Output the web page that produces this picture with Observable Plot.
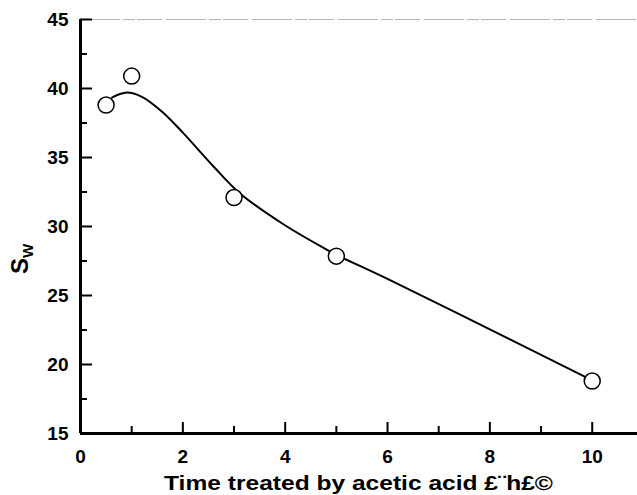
<!DOCTYPE html>
<html>
<head>
<meta charset="utf-8">
<script src="https://cdn.jsdelivr.net/npm/d3@7"></script>
<script src="https://cdn.jsdelivr.net/npm/@observablehq/plot@0.6"></script>
<style>
  html, body { margin: 0; padding: 0; background: #fff; }
  #chart svg text { font-weight: bold; fill: #000; }
</style>
</head>
<body>
<div id="chart"></div>
<script>
// Measured points
const time = [0.5, 1, 3, 5, 10];
const sw = [38.8, 40.9, 32.1, 27.85, 18.8];

// Fitted curve
const curveTime = [0.62, 0.88, 1.2, 1.6, 2.0, 2.6, 3.1, 3.95, 4.75, 5.0, 6.0, 8.0, 10.0];
const curveSw  = [39.35, 39.7, 39.4, 38.3, 36.8, 34.35, 32.45, 30.2, 28.45, 27.95, 26.2, 22.55, 18.85];

// Ticks
const xMajor = [0, 2, 4, 6, 8, 10];
const xMinor = [1, 3, 5, 7, 9];
const yMajor = [15, 20, 25, 30, 35, 40, 45];
const yMinor = [17.5, 22.5, 27.5, 32.5, 37.5, 42.5];

const xTitle = "Time treated by acetic acid £¨h£©";
const yTitleMain = "S";
const yTitleSub = "W";

const points = time.map((t, i) => ({t, v: sw[i]}));
const curve = curveTime.map((t, i) => ({t, v: curveSw[i]}));

const W = 637, H = 495, mL = 80, mR = 0, mT = 19, mB = 62;
const fw = W - mL - mR, fh = H - mT - mB;
const font = "'Liberation Sans', Arial, Helvetica, sans-serif";

const svg = Plot.plot({
  width: W, height: H,
  marginLeft: mL, marginRight: mR, marginTop: mT, marginBottom: mB,
  style: {fontFamily: font, fontWeight: "bold", fontSize: "19px", color: "#000", background: "#fff", overflow: "visible"},
  x: {domain: [0, 10.885]},
  y: {domain: [15, 45]},
  marks: [
    // faint top border
    Plot.ruleY([45], {stroke: "#b5b5b5", strokeWidth: 1.2, strokeDasharray: "40,3,12,2,25,4"}),
    // tick labels
    Plot.axisX(xMajor, {tickSize: 0, tickPadding: 16, label: null, fontSize: 19}),
    Plot.axisY(yMajor, {tickSize: 0, tickPadding: 12, label: null, fontSize: 19}),
    // inward ticks
    Plot.tickX(xMajor, {x: d => d, insetTop: fh - 11, stroke: "#000", strokeWidth: 2}),
    Plot.tickX(xMinor, {x: d => d, insetTop: fh - 7, stroke: "#000", strokeWidth: 2}),
    Plot.tickY(yMajor, {y: d => d, insetRight: fw - 12, stroke: "#000", strokeWidth: 2}),
    Plot.tickY(yMinor, {y: d => d, insetRight: fw - 7, stroke: "#000", strokeWidth: 2}),
    // axis lines
    Plot.ruleY([15], {stroke: "#000", strokeWidth: 3}),
    Plot.ruleX([0], {stroke: "#000", strokeWidth: 3}),
    // fitted curve
    Plot.line(curve, {x: "t", y: "v", curve: "catmull-rom", stroke: "#000", strokeWidth: 2}),
    // data points
    Plot.dot(points, {x: "t", y: "v", r: 8, fill: "#fff", stroke: "#000", strokeWidth: 1.5})
  ]
});

const root = d3.select(svg);

// x title, stretched horizontally to match the reference's wide lettering
root.append("text")
  .attr("transform", `translate(${mL + fw / 2},490) scale(1.17,1)`)
  .attr("text-anchor", "middle")
  .attr("font-family", font)
  .attr("font-weight", "bold")
  .attr("font-size", 21)
  .attr("fill", "#000")
  .text(xTitle);

// y title with subscript
const yt = root.append("text")
  .attr("transform", `translate(28,${mT + fh / 2 + 33}) rotate(-90)`)
  .attr("text-anchor", "middle")
  .attr("font-family", font)
  .attr("font-weight", "bold")
  .attr("fill", "#000");
yt.append("tspan").attr("font-size", 24).text(yTitleMain);
yt.append("tspan").attr("font-size", 15).attr("dy", 5).text(yTitleSub);

document.getElementById("chart").appendChild(svg);
</script>
</body>
</html>
